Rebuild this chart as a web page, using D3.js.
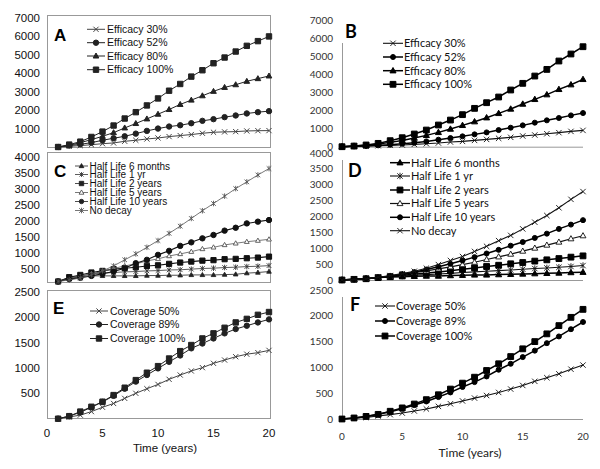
<!DOCTYPE html>
<html lang="en">
<head>
<meta charset="UTF-8"/>
<title>Efficacy, half life and coverage panels</title>
<script src="https://d3js.org/d3.v7.min.js"></script>
<style>
	body { margin: 0; background: #fff; }
	svg { display: block; }
</style>
</head>
<body>
<script>
var w = 600;
var h = 469;

// x categories
var yearsL = [1,2,3,4,5,6,7,8,9,10,11,12,13,14,15,16,17,18,19,20];
var yearsR = [0,1,2,3,4,5,6,7,8,9,10,11,12,13,14,15,16,17,18,19,20];
var xTicks = [0,5,10,15,20];

// A - efficacy (left model)
var effA30  = [0,35,75,125,180,220,310,365,435,490,565,620,675,745,800,820,835,870,885,890];
var effA52  = [0,75,145,235,365,475,580,725,875,1000,1110,1180,1290,1420,1510,1620,1710,1820,1890,1945];
var effA80  = [0,90,235,400,580,780,1035,1275,1525,1780,2035,2310,2545,2780,3020,3235,3380,3565,3710,3855];
var effA100 = [0,130,290,545,835,1165,1545,1890,2255,2635,3055,3420,3820,4165,4545,4855,5180,5490,5745,6000];

// B - efficacy (right model)
var effB30  = [0,15,35,55,75,95,130,165,205,260,295,350,405,465,520,595,650,720,780,850,905];
var effB52  = [0,20,35,75,110,165,220,295,390,480,575,685,795,925,1055,1185,1335,1465,1595,1740,1870];
var effB80  = [0,35,75,150,240,350,480,630,795,980,1185,1390,1610,1850,2095,2370,2630,2890,3185,3445,3740];
var effB100 = [0,35,95,185,335,500,705,925,1205,1480,1780,2130,2445,2760,3150,3520,3925,4295,4760,5150,5555];

// C - half life (left model)
var hlC6m  = [120,215,265,295,295,295,295,295,305,305,315,315,325,325,325,335,345,380,400,430];
var hlC1   = [120,235,295,350,380,400,420,430,450,460,480,485,505,525,535,555,565,585,595,615];
var hlC2   = [120,255,325,400,450,505,535,565,605,625,670,710,740,770,785,815,825,845,865,895];
var hlC5   = [120,215,275,360,430,525,605,670,760,825,915,980,1050,1135,1185,1260,1310,1360,1395,1435];
var hlC10  = [120,195,235,295,360,430,535,690,795,950,1075,1230,1340,1465,1570,1705,1795,1930,1985,2035];
var hlCinf = [120,170,225,325,450,605,795,980,1185,1395,1620,1845,2085,2325,2550,2780,3015,3225,3440,3640];

// D - half life (right model)
var hlD6m  = [0,20,40,75,95,105,115,125,125,140,150,160,160,170,180,190,200,210,220,235,245];
var hlD1   = [0,20,40,75,105,125,150,170,190,210,235,255,275,295,315,340,360,380,400,425,455];
var hlD2   = [0,20,40,75,105,150,180,220,255,295,340,380,425,465,510,550,595,635,675,720,760];
var hlD5   = [0,20,40,85,125,180,235,285,350,415,485,560,645,730,815,910,1005,1100,1195,1300,1395];
var hlD10  = [0,20,40,75,115,180,245,330,415,510,615,720,835,950,1080,1195,1325,1460,1610,1745,1885];
var hlDinf = [0,20,40,85,140,200,275,370,485,615,740,900,1060,1240,1405,1610,1820,2030,2275,2540,2785];

// E - coverage (left model)
var covE50  = [0,35,70,140,225,300,400,500,590,675,775,860,940,1005,1090,1155,1220,1270,1300,1345];
var covE89  = [0,50,125,225,330,450,590,730,860,990,1120,1245,1385,1480,1580,1680,1765,1830,1895,1955];
var covE100 = [0,50,140,235,335,465,610,760,905,1035,1185,1330,1450,1580,1680,1790,1895,1965,2045,2100];

// F - coverage (right model)
var covF50  = [0,15,30,60,85,115,155,195,245,295,350,405,455,515,580,650,730,800,875,965,1045];
var covF89  = [0,20,50,90,140,200,270,340,425,515,620,715,825,955,1070,1200,1325,1470,1600,1740,1880];
var covF100 = [0,20,50,90,150,215,290,375,470,580,695,810,940,1070,1210,1360,1500,1650,1810,1970,2125];

var effNames = ["Efficacy 30%", "Efficacy 52%", "Efficacy 80%", "Efficacy 100%"];
var hlNames  = ["Half Life 6 months", "Half Life 1 yr", "Half Life 2 years", "Half Life 5 years", "Half Life 10 years", "No decay"];
var covNames = ["Coverage 50%", "Coverage 89%", "Coverage 100%"];

var ticksA = [1000,2000,3000,4000,5000,6000,7000];
var ticksB = [0,1000,2000,3000,4000,5000,6000,7000];
var ticksC = [500,1000,1500,2000,2500,3000,3500,4000];
var ticksD = [0,500,1000,1500,2000,2500,3000,3500,4000];
var ticksE = [500,1000,1500,2000,2500];
var ticksF = [0,500,1000,1500,2000,2500];

var fontL = "'Liberation Sans', Arial, sans-serif";
var fontR = "Lato, 'Open Sans', sans-serif";

var svg = d3.select("body")
	.append("svg")
	.attr("width", w)
	.attr("height", h);

// x scales
var xL = d3.scaleLinear().domain([0, 20]).range([47, 269]);
var xR = d3.scaleLinear().domain([0, 20]).range([342, 583]);

// marker path strings
function markerPath(type, s) {
	if (type == "cross") return "M" + (-s) + "," + (-s) + "L" + s + "," + s + "M" + (-s) + "," + s + "L" + s + "," + (-s);
	if (type == "star") return "M" + (-s) + "," + (-s) + "L" + s + "," + s + "M" + (-s) + "," + s + "L" + s + "," + (-s) + "M0," + (-s * 1.2) + "L0," + (s * 1.2);
	if (type == "tri" || type == "otri") return "M0," + (-s * 1.1) + "L" + (s * 1.05) + "," + (s * 0.75) + "L" + (-s * 1.05) + "," + (s * 0.75) + "Z";
	if (type == "square") return "M" + (-s) + "," + (-s) + "h" + (2 * s) + "v" + (2 * s) + "h" + (-2 * s) + "Z";
	// circle
	return "M" + s + ",0A" + s + "," + s + " 0 1,1 " + (-s) + ",0A" + s + "," + s + " 0 1,1 " + s + ",0Z";
}

function drawMarker(g, type, cx, cy, st) {
	var filled = (type == "tri" || type == "square" || type == "circle");
	g.append("path")
		.attr("d", markerPath(type, st.size))
		.attr("transform", "translate(" + cx + "," + cy + ")")
		.attr("fill", filled ? st.color : (type == "otri" ? "#fff" : "none"))
		.attr("stroke", st.color)
		.attr("stroke-width", st.mw);
}

function drawSeries(g, xs, ys, x, y, type, st) {
	var pts = xs.map(function(d, i) { return [x(d), y(ys[i])]; });
	g.append("path")
		.attr("d", d3.line()(pts))
		.attr("fill", "none")
		.attr("stroke", st.color)
		.attr("stroke-width", st.lw);
	pts.forEach(function(p) { drawMarker(g, type, p[0], p[1], st); });
}

function drawLegend(g, names, types, styles, x1, x2, tx, rows, size, font) {
	names.forEach(function(n, i) {
		var st = styles[i];
		g.append("line")
			.attr("x1", x1).attr("x2", x2)
			.attr("y1", rows[i]).attr("y2", rows[i])
			.attr("stroke", st.color)
			.attr("stroke-width", st.lw);
		drawMarker(g, types[i], (x1 + x2) / 2, rows[i], st);
		g.append("text")
			.attr("x", tx)
			.attr("y", rows[i])
			.attr("dy", "0.35em")
			.style("font-family", font)
			.style("font-size", size + "px")
			.style("fill", "#111")
			.text(n);
	});
}

function yLabels(g, y, ticks, xpos, font, size, color) {
	g.selectAll(null)
		.data(ticks)
		.enter()
		.append("text")
		.attr("x", xpos)
		.attr("y", function(d) { return y(d); })
		.attr("dy", "0.35em")
		.attr("text-anchor", "end")
		.style("font-family", font)
		.style("font-size", size + "px")
		.style("fill", color)
		.text(function(d) { return d; });
}

// ---------- left column (boxed panels) ----------
function leftPanel(top, bottom, y, ticks) {
	var g = svg.append("g");
	g.append("rect")
		.attr("x", 47.5).attr("y", top + 0.5)
		.attr("width", 223).attr("height", bottom - top)
		.attr("fill", "none")
		.attr("stroke", "#999")
		.attr("stroke-width", 1);
	yLabels(g, y, ticks, 40, fontL, 11.5, "#111");
	return g;
}

function panelLetter(g, t, x, y, font, size) {
	g.append("text")
		.attr("x", x).attr("y", y)
		.attr("dy", "0.35em")
		.style("font-family", font)
		.style("font-size", size + "px")
		.style("font-weight", "bold")
		.text(t);
}

var dark = { color: "#222", lw: 1, mw: 1, size: 2.7 };
var darkC = { color: "#222", lw: 0.8, mw: 0.9, size: 2.2 };
var greyC = { color: "#555", lw: 0.8, mw: 0.9, size: 2.3 };

// A
var yA = d3.scaleLinear().domain([0, 7000]).range([147, 18]);
var gA = leftPanel(15, 147, yA, ticksA);
drawSeries(gA, yearsL, effA30, xL, yA, "cross", { color: "#444", lw: 1, mw: 1, size: 2.6 });
drawSeries(gA, yearsL, effA52, xL, yA, "circle", dark);
drawSeries(gA, yearsL, effA80, xL, yA, "tri", dark);
drawSeries(gA, yearsL, effA100, xL, yA, "square", dark);
panelLetter(gA, "A", 54, 35, fontL, 17);
drawLegend(gA, effNames, ["cross", "circle", "tri", "square"],
	[{ color: "#444", lw: 1, mw: 1, size: 2.6 }, dark, dark, dark],
	87, 105, 107, [29.3, 42.7, 56, 69.7], 10.5, fontL);

// C
var yC = d3.scaleLinear().domain([500, 4000]).range([269.3, 157]);
var gC = leftPanel(152, 282, yC, ticksC);
drawSeries(gC, yearsL, hlC6m, xL, yC, "tri", darkC);
drawSeries(gC, yearsL, hlC1, xL, yC, "star", { color: "#333", lw: 0.8, mw: 0.9, size: 2.3 });
drawSeries(gC, yearsL, hlC2, xL, yC, "square", { color: "#111", lw: 1.1, mw: 1, size: 2.6 });
drawSeries(gC, yearsL, hlC5, xL, yC, "otri", greyC);
drawSeries(gC, yearsL, hlC10, xL, yC, "circle", { color: "#111", lw: 1.1, mw: 1, size: 2.7 });
drawSeries(gC, yearsL, hlCinf, xL, yC, "star", greyC);
panelLetter(gC, "C", 54, 171.5, fontL, 17);
drawLegend(gC, hlNames, ["tri", "star", "square", "otri", "circle", "star"],
	[darkC, { color: "#333", lw: 0.8, mw: 0.9, size: 2 }, darkC, greyC, darkC, greyC],
	75, 88, 89.5, [166, 174.5, 183.5, 192.5, 201.5, 210.5], 10, fontL);

// E
var yE = d3.scaleLinear().domain([0, 2500]).range([418.7, 291.7]);
var gE = leftPanel(290, 418, yE, ticksE);
drawSeries(gE, yearsL, covE50, xL, yE, "cross", { color: "#444", lw: 1, mw: 1, size: 2.6 });
drawSeries(gE, yearsL, covE89, xL, yE, "circle", dark);
drawSeries(gE, yearsL, covE100, xL, yE, "square", dark);
panelLetter(gE, "E", 53, 308, fontL, 17);
drawLegend(gE, covNames, ["cross", "circle", "square"],
	[{ color: "#444", lw: 1, mw: 1, size: 2.6 }, dark, dark],
	90, 108, 110, [311, 324.5, 338.5], 10.5, fontL);

// left x axis labels
gE.selectAll(null)
	.data(xTicks)
	.enter()
	.append("text")
	.attr("x", function(d) { return xL(d); })
	.attr("y", 432.7)
	.attr("dy", "0.35em")
	.attr("text-anchor", "middle")
	.style("font-family", fontL)
	.style("font-size", "11.5px")
	.style("fill", "#111")
	.text(function(d) { return d; });
gE.append("text")
	.attr("x", 165).attr("y", 448)
	.attr("dy", "0.35em")
	.attr("text-anchor", "middle")
	.style("font-family", fontL)
	.style("font-size", "11.5px")
	.style("fill", "#111")
	.text("Time (years)");

// ---------- right column (open axes) ----------
function rightPanel(y, ticks, yTop) {
	var g = svg.append("g");
	g.append("line")
		.attr("x1", 342.5).attr("x2", 342.5)
		.attr("y1", yTop).attr("y2", y(0))
		.attr("stroke", "#999");
	g.append("line")
		.attr("x1", 342).attr("x2", 583)
		.attr("y1", y(0) + 0.5).attr("y2", y(0) + 0.5)
		.attr("stroke", "#999");
	yLabels(g, y, ticks, 333, fontR, 10, "#333");
	return g;
}

var blk = { color: "#000", lw: 1.5, mw: 1, size: 2.9 };
var blkC = { color: "#000", lw: 1.5, mw: 1, size: 2.5 };
var blkX = { color: "#111", lw: 1.1, mw: 0.9, size: 2.7 };
var blkT = { color: "#111", lw: 1.2, mw: 0.9, size: 2.8 };

// B
var yB = d3.scaleLinear().domain([0, 7000]).range([146.7, 20.7]);
var gB = rightPanel(yB, ticksB, 43);
drawSeries(gB, yearsR, effB30, xR, yB, "cross", blkX);
drawSeries(gB, yearsR, effB52, xR, yB, "circle", blkC);
drawSeries(gB, yearsR, effB80, xR, yB, "tri", blk);
drawSeries(gB, yearsR, effB100, xR, yB, "square", blk);
panelLetter(gB, "B", 345, 31.5, fontR, 18);
drawLegend(gB, effNames, ["cross", "circle", "tri", "square"], [blkX, blkC, blk, blk],
	383, 403, 404, [43.3, 57, 70.7, 84.3], 11, fontR);

// D
var yD = d3.scaleLinear().domain([0, 4000]).range([280, 153]);
var gD = rightPanel(yD, ticksD, 160);
drawSeries(gD, yearsR, hlD6m, xR, yD, "tri", blk);
drawSeries(gD, yearsR, hlD1, xR, yD, "star", blkX);
drawSeries(gD, yearsR, hlD2, xR, yD, "square", blk);
drawSeries(gD, yearsR, hlD5, xR, yD, "otri", blkT);
drawSeries(gD, yearsR, hlD10, xR, yD, "circle", blkC);
drawSeries(gD, yearsR, hlDinf, xR, yD, "cross", blkX);
panelLetter(gD, "D", 348, 170.5, fontR, 18);
drawLegend(gD, hlNames, ["tri", "star", "square", "otri", "circle", "cross"],
	[blk, blkX, blk, blkT, blkC, blkX],
	390, 410, 411, [162.7, 176, 190, 203.5, 217.3, 230.7], 11, fontR);

// F
var yF = d3.scaleLinear().domain([0, 2500]).range([419, 290]);
var gF = rightPanel(yF, ticksF, 297);
drawSeries(gF, yearsR, covF50, xR, yF, "cross", blkX);
drawSeries(gF, yearsR, covF89, xR, yF, "circle", blkC);
drawSeries(gF, yearsR, covF100, xR, yF, "square", blk);
panelLetter(gF, "F", 350, 305, fontR, 18);
drawLegend(gF, covNames, ["cross", "circle", "square"],
	[blkX, blkC, blk],
	375, 395, 396, [306, 321, 336], 11, fontR);

gF.selectAll(null)
	.data(xTicks)
	.enter()
	.append("text")
	.attr("x", function(d) { return xR(d); })
	.attr("y", 436)
	.attr("dy", "0.35em")
	.attr("text-anchor", "middle")
	.style("font-family", fontR)
	.style("font-size", "10px")
	.style("fill", "#333")
	.text(function(d) { return d; });
gF.append("text")
	.attr("x", 470).attr("y", 452.5)
	.attr("dy", "0.35em")
	.attr("text-anchor", "middle")
	.style("font-family", fontR)
	.style("font-size", "12px")
	.style("fill", "#222")
	.text("Time (years)");
</script>
</body>
</html>
